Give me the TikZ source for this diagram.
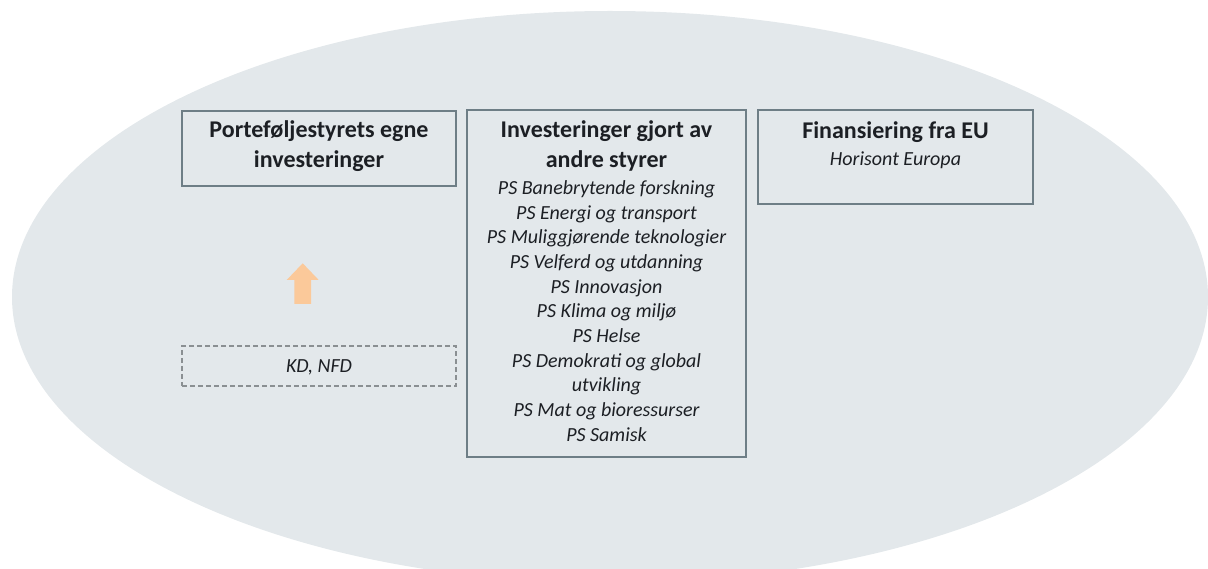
\documentclass[tikz,border=0pt]{standalone}
\usepackage{fontspec}
\setmainfont{Carlito}
\definecolor{ellfill}{HTML}{E3E8EB}
\definecolor{boxline}{HTML}{6E7E86}
\definecolor{dashline}{HTML}{8A8F92}
\definecolor{peach}{HTML}{FBC99A}
\definecolor{txt}{HTML}{1C1F24}
\tikzset{
  frame/.style={draw=boxline, line width=1.8pt, inner sep=0pt},
  dashframe/.style={draw=dashline, line width=1.4pt, dash pattern=on 5pt off 3pt, inner sep=0pt},
  titletext/.style={anchor=base, align=center, inner sep=0pt, text=txt,
    font={\fontsize{24}{29.5}\selectfont\bfseries}},
  listtext/.style={anchor=base, align=center, inner sep=0pt, text=txt,
    font={\fontsize{20}{24.7}\selectfont\itshape}},
}
\begin{document}
\begin{tikzpicture}[x=1pt, y=-1pt]
\useasboundingbox (0,0) rectangle (1208,569);
\begin{scope}
  \clip (0,0) rectangle (1208,569);
  \fill[ellfill] (610,297) ellipse [x radius=598, y radius=286];
\end{scope}
% boxes
\node[frame, minimum width=274pt, minimum height=75pt] (own) at (319,148.5) {};
\node[frame, minimum width=279pt, minimum height=347pt] (other) at (606.5,283.5) {};
\node[frame, minimum width=275pt, minimum height=94pt] (eu) at (895.5,157) {};
\node[dashframe, minimum width=274pt, minimum height=40pt] (kd) at (319,366) {};
% texts (base anchor = baseline of the last line)
\node[titletext] (ownt) at (319,167.5) {Porteføljestyrets egne\\investeringer};
\node[titletext] (othert) at (606.5,167.5) {Investeringer gjort av\\andre styrer};
\node[listtext] (otherl) at (606.5,441.3) {PS Banebrytende forskning\\PS Energi og transport\\PS Muliggjørende teknologier\\PS Velferd og utdanning\\PS Innovasjon\\PS Klima og miljø\\PS Helse\\PS Demokrati og global\\utvikling\\PS Mat og bioressurser\\PS Samisk};
\node[titletext] (eut) at (895.5,139) {Finansiering fra EU};
\node[listtext] (eul) at (895.5,166) {Horisont Europa};
\node[listtext] (kdt) at (319,372.7) {KD, NFD};
% block arrow
\fill[peach] (294.3,304) -- (294.3,280) -- (286.7,280) -- (302.7,263.3) -- (318.7,280) -- (311.1,280) -- (311.1,304) -- cycle;
\end{tikzpicture}
\end{document}
